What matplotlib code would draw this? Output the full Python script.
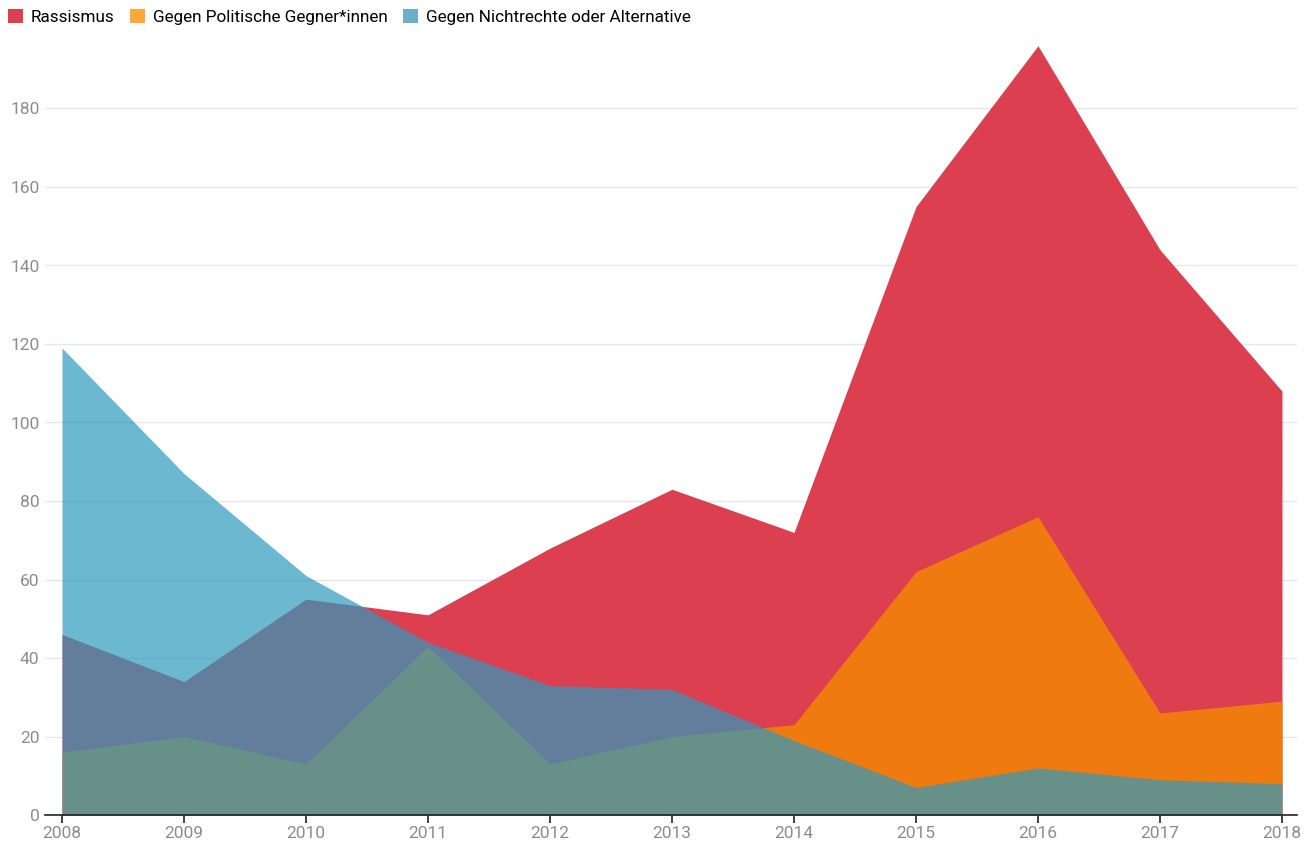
import matplotlib
matplotlib.use('Agg')
import matplotlib.pyplot as plt
from matplotlib.patches import Patch

plt.rcParams['font.family'] = ['Roboto', 'DejaVu Sans']

# data
years = [2008, 2009, 2010, 2011, 2012, 2013, 2014, 2015, 2016, 2017, 2018]
rassismus = [46, 34, 55, 51, 68, 83, 72, 155, 196, 144, 108]
politische_gegner = [16, 20, 13, 43, 13, 20, 23, 62, 76, 26, 29]
nichtrechte = [119, 87, 61, 44, 33, 32, 19, 7, 12, 9, 8]

labels = ['Rassismus', 'Gegen Politische Gegner*innen', 'Gegen Nichtrechte oder Alternative']
legend_colors = ['#dc3f50', '#ffa83a', '#6aafca']

fig = plt.figure(figsize=(13.15, 8.46), dpi=100)
ax = fig.add_axes([45 / 1315, (846 - 815) / 846, 1252 / 1315, 785 / 846])

ax.fill_between(years, 0, rassismus, color='#dc3f50', linewidth=0, zorder=2)
ax.fill_between(years, 0, politische_gegner, color='#f28209', alpha=0.9, linewidth=0, zorder=3)
ax.fill_between(years, 0, nichtrechte, color='#2e9abd', alpha=0.7, linewidth=0, zorder=4)

ax.set_xlim(2008 - 17 / 122, 2018 + 15 / 122)
ax.set_ylim(0, 200)

ax.set_yticks(range(0, 181, 20))
ax.set_xticks(years)
ax.set_xticklabels([str(y) for y in years])
ax.yaxis.grid(True, color='#e6e6e6', linewidth=1, zorder=0)
ax.set_axisbelow(True)

for s in ['top', 'right', 'left']:
    ax.spines[s].set_visible(False)
ax.spines['bottom'].set_color('#222222')
ax.spines['bottom'].set_linewidth(1.2)
ax.spines['bottom'].set_zorder(6)

ax.tick_params(axis='y', length=0, pad=4, labelsize=12.5, labelcolor='#8c8c8c')
ax.tick_params(axis='x', length=6, width=1.2, color='#222222', pad=2,
               labelsize=12.5, labelcolor='#8c8c8c')

handles = [Patch(facecolor=c, edgecolor='none') for c in legend_colors]
fig.legend(handles, labels, loc='upper left', bbox_to_anchor=(-0.003, 1.003), ncol=3,
           frameon=False, fontsize=12.3, handlelength=0.85, handleheight=0.85,
           handletextpad=0.5, columnspacing=0.9, borderaxespad=0.3)

fig.savefig('out.png', dpi=100)
